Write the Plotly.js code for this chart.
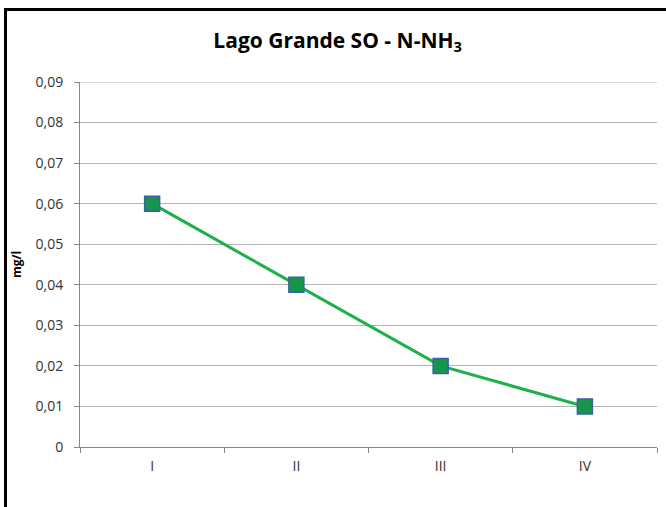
<!DOCTYPE html>
<html>
<head>
<meta charset="utf-8">
<script src="https://cdn.plot.ly/plotly-3.0.1.min.js"></script>
<style>
html,body{margin:0;padding:0;background:#fff;}
#wrap{position:relative;width:666px;height:507px;overflow:hidden;}
#chart{position:absolute;left:0;top:0;width:666px;height:507px;}
#frame{position:absolute;left:4px;top:8px;width:680px;height:520px;border-top:3px solid #000;border-left:3px solid #000;pointer-events:none;}
</style>
</head>
<body>
<div id="wrap"><div id="chart"></div><div id="frame"></div></div>
<script>
const categories = ["I", "II", "III", "IV"];
const values = [0.06, 0.04, 0.02, 0.01];
const yTicks = [0, 0.01, 0.02, 0.03, 0.04, 0.05, 0.06, 0.07, 0.08, 0.09];
const yTickLabels = ["0", "0,01", "0,02", "0,03", "0,04", "0,05", "0,06", "0,07", "0,08", "0,09"];
const yMax = 0.09;

const trace = {
  x: categories,
  y: values,
  type: "scatter",
  mode: "lines+markers",
  line: {color: "#1fb04a", width: 3},
  marker: {symbol: "square", size: 15, color: "#15964a", line: {color: "#3d5ea8", width: 1.5}},
  hoverinfo: "skip"
};

const layout = {
  width: 666, height: 507,
  margin: {l: 80, r: 9, t: 82, b: 60},
  paper_bgcolor: "#fff", plot_bgcolor: "#fff",
  showlegend: false,
  font: {family: "Open Sans, sans-serif", color: "#333", size: 14},
  title: {text: "<b>Lago Grande SO - N-NH<sub>3</sub></b>", x: 0.507, xanchor: "center", y: 0.92, yanchor: "middle",
          font: {family: "Open Sans, sans-serif", size: 21, color: "#000"}},
  xaxis: {
    type: "category",
    range: [-0.5, 3.5],
    tickson: "boundaries",
    ticks: "outside", ticklen: 5, tickcolor: "#868686",
    showline: true, linecolor: "#868686", linewidth: 1,
    showgrid: false, zeroline: false, fixedrange: true,
    ticklabelstandoff: 6,
    tickfont: {size: 14, color: "#333"}
  },
  yaxis: {
    range: [0, yMax],
    tickmode: "array", tickvals: yTicks, ticktext: yTickLabels,
    ticks: "outside", ticklen: 5, tickcolor: "#868686",
    showline: true, linecolor: "#868686", linewidth: 1,
    showgrid: true, gridcolor: "#b3b3b3", gridwidth: 1,
    zeroline: false,
    ticklabelstandoff: 8,
    tickfont: {size: 14, color: "#333"},
    title: {text: "<b>mg/l</b>", font: {size: 12, color: "#000"}, standoff: 11},
    fixedrange: true
  },
  shapes: [{
    type: "line", xref: "paper", yref: "y", x0: 0, x1: 1, y0: yMax, y1: yMax,
    line: {color: "#b3b3b3", width: 1}, layer: "below"
  }]
};

Plotly.newPlot("chart", [trace], layout, {displayModeBar: false, staticPlot: true});
</script>
</body>
</html>
